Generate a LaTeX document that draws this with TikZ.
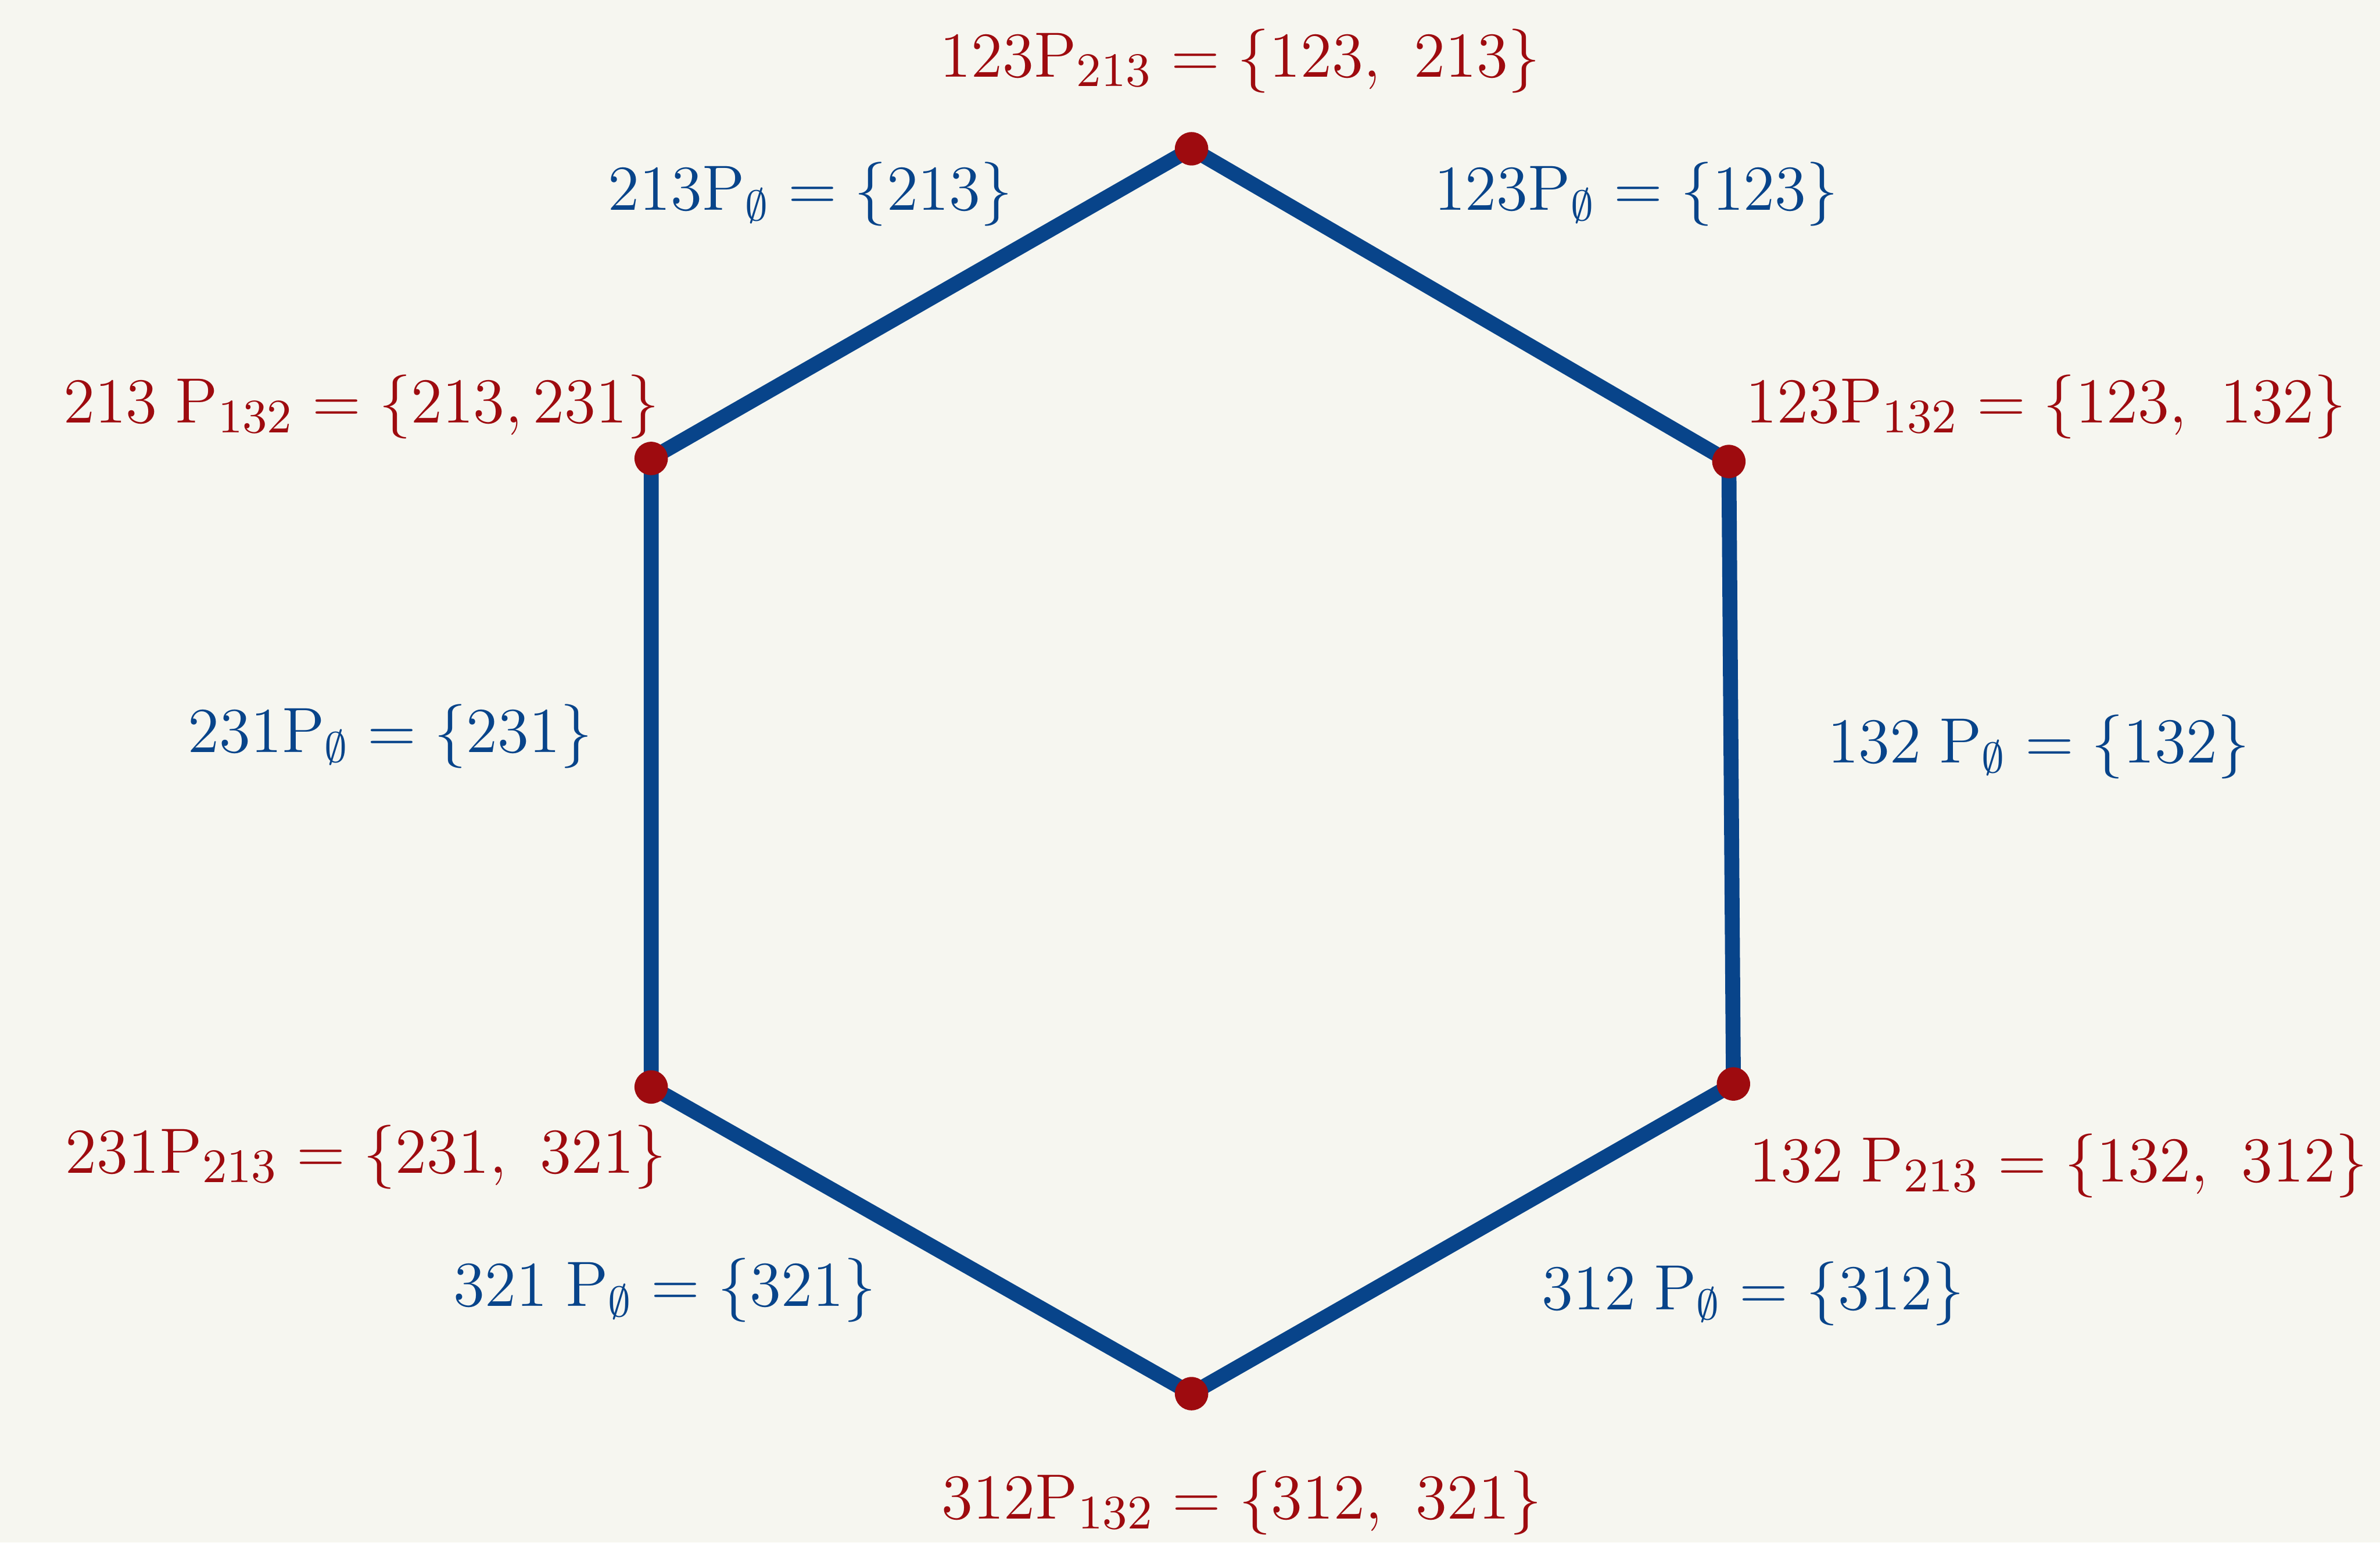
\documentclass[tikz,border=0pt]{standalone}
\usepackage{amsmath,amssymb}
\usepackage{tikz}
\definecolor{hexblue}{HTML}{08448A}
\definecolor{hexred}{HTML}{9E0B0F}
\definecolor{paper}{HTML}{F6F6F0}

\begin{document}
\begin{tikzpicture}[scale=1.0,>=stealth,
  vert/.style={circle,fill=hexred,inner sep=0pt,minimum size=0.22cm},
  redlbl/.style={text=hexred,font=\fontsize{13}{15}\selectfont},
  bluelbl/.style={text=hexblue,font=\fontsize{12}{14}\selectfont}]
\fill[paper] (0,0) rectangle (15.68,10.16);
\useasboundingbox (0,0) rectangle (15.68,10.16);
\coordinate (t) at (7.85,9.18);
\coordinate (ur) at (11.39,7.12);
\coordinate (lr) at (11.42,3.02);
\coordinate (b) at (7.85,0.98);
\coordinate (ll) at (4.29,3.00);
\coordinate (ul) at (4.29,7.14);
\draw[hexblue,line width=2.8pt,line join=round] (t) -- (ur) -- (lr) -- (b) -- (ll) -- (ul) -- cycle;
\foreach \v in {t,ur,lr,b,ll,ul}
  \node[vert] (dot-\v) at (\v) {};
% vertex sets
\node[redlbl] (lt) at (8.17,9.76) {$123\mathrm{P}_{213} = \{123,\ 213\}$};
\node[redlbl] (lul) at (2.38,7.48) {$213\;\mathrm{P}_{132} = \{213,231\}$};
\node[redlbl] (lur) at (13.48,7.48) {$123\mathrm{P}_{132} = \{123,\ 132\}$};
\node[redlbl] (lll) at (2.41,2.54) {$231\mathrm{P}_{213} = \{231,\ 321\}$};
\node[redlbl] (llr) at (13.56,2.48) {$132\;\mathrm{P}_{213} = \{132,\ 312\}$};
\node[redlbl] (lb) at (8.18,0.26) {$312\mathrm{P}_{132} = \{312,\ 321\}$};
% edge sets
\node[bluelbl] (eul) at (5.34,8.88) {$213\mathrm{P}_{\emptyset}=\{213\}$};
\node[bluelbl] (eur) at (10.78,8.88) {$123\mathrm{P}_{\emptyset}=\{123\}$};
\node[bluelbl] (el) at (2.57,5.31) {$231\mathrm{P}_{\emptyset}=\{231\}$};
\node[bluelbl] (er) at (13.43,5.24) {$132\;\mathrm{P}_{\emptyset}=\{132\}$};
\node[bluelbl] (ell) at (4.38,1.66) {$321\;\mathrm{P}_{\emptyset}=\{321\}$};
\node[bluelbl] (elr) at (11.55,1.64) {$312\;\mathrm{P}_{\emptyset}=\{312\}$};
\end{tikzpicture}
\end{document}
